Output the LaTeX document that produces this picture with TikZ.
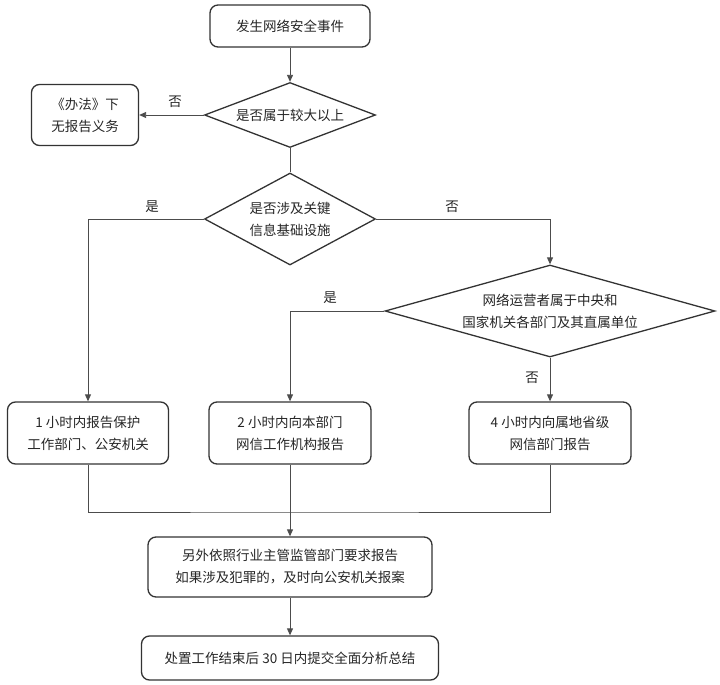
\documentclass[tikz,border=0pt]{standalone}
\usepackage{fontspec}
\setmainfont{Noto Sans CJK SC}
\usetikzlibrary{arrows.meta, shapes.geometric}

\begin{document}
\begin{tikzpicture}[x=1pt, y=-1pt,
    box/.style={draw=black!80, line width=1.3pt, rounded corners=8pt, align=center,
      font=\fontsize{13.5}{22}\selectfont, text=black!85, inner sep=0pt},
    choice/.style={draw=black!80, line width=1.3pt, shape=diamond, align=center,
      font=\fontsize{13.5}{22}\selectfont, text=black!85, inner sep=0pt},
    flow/.style={draw=black!70, line width=0.9pt},
    tip/.style={flow, -{Triangle[length=7pt, width=6pt]}},
    yesno/.style={font=\fontsize{13.5}{16}\selectfont, text=black!85}]
  \useasboundingbox (0, 0) rectangle (720, 685);

  \node[box, minimum width=160, minimum height=42] (event) at (290, 26) {发生网络安全事件};
  \node[choice, aspect=2.6, minimum width=171, minimum height=65] (major) at (290, 115) {是否属于较大以上};
  \node[box, minimum width=107, minimum height=61] (noduty) at (85, 115) {《办法》下\\无报告义务};
  \node[choice, aspect=1.86, minimum width=171, minimum height=92] (cii) at (290, 219) {是否涉及关键\\信息基础设施};
  \node[choice, aspect=3.6, minimum width=330, minimum height=92] (central) at (550, 311)
    {网络运营者属于中央和\\国家机关各部门及其直属单位};

  \node[box, minimum width=161, minimum height=62] (rep1) at (88, 433) {1 小时内报告保护\\工作部门、公安机关};
  \node[box, minimum width=162, minimum height=62] (rep2) at (290, 433) {2 小时内向本部门\\网信工作机构报告};
  \node[box, minimum width=162, minimum height=62] (rep4) at (550, 433) {4 小时内向属地省级\\网信部门报告};

  \node[box, minimum width=284, minimum height=60] (extra) at (290, 567)
    {另外依照行业主管监管部门要求报告\\如果涉及犯罪的，及时向公安机关报案};
  \node[box, minimum width=297, minimum height=44] (summary) at (290, 658) {处置工作结束后 30 日内提交全面分析总结};

  \coordinate (merge) at (290, 512);

  % decisions
  \draw[tip] (event) -- (major);
  \draw[tip] (major) -- (noduty);
  \draw[flow] (major) -- (cii);
  \draw[tip] (cii.west) -| (rep1.north);
  \draw[tip] (cii.east) -| (central.north);
  \draw[tip] (central.west) -| (rep2.north);
  \draw[tip] (central) -- (rep4);

  \node[yesno] (no1) at (175, 102) {否};
  \node[yesno] (yes1) at (152, 207) {是};
  \node[yesno] (no2) at (452, 207) {否};
  \node[yesno] (yes2) at (330, 298) {是};
  \node[yesno] (no3) at (532, 378) {否};

  % reports join
  \draw[flow] (rep1.south) |- (merge) -| (rep4.south);
  \draw[tip] (rep2) -- (extra);
  \draw[tip] (extra) -- (summary);
\end{tikzpicture}
\end{document}
